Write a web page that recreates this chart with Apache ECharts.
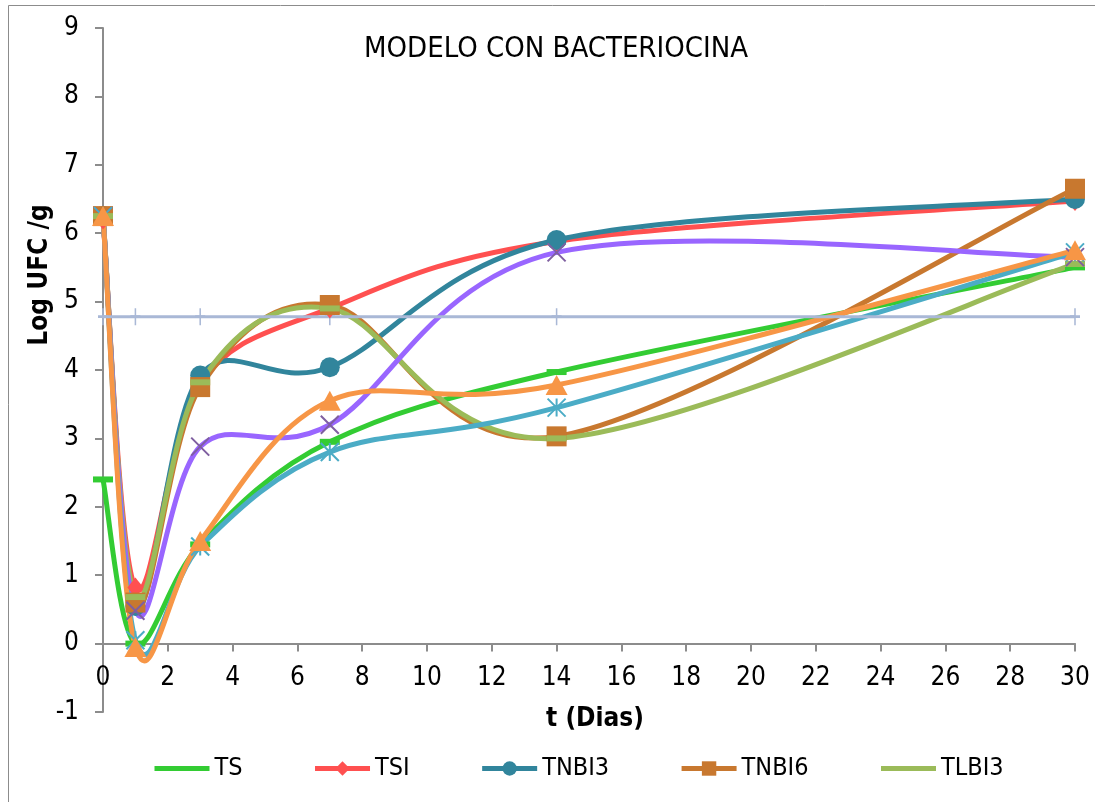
<!DOCTYPE html>
<html>
<head>
<meta charset="utf-8">
<script src="https://cdn.jsdelivr.net/npm/echarts@6/dist/echarts.min.js"></script>
<style>
html,body{margin:0;padding:0;background:#fff;}
#chart{width:1095px;height:802px;}
</style>
</head>
<body>
<div id="chart"></div>
<script>
var days = [0, 1, 3, 7, 14, 30];
var TS = [2.4, 0.0, 1.45, 2.95, 3.97, 5.5];
var TSI = [6.2, 0.82, 3.8, 4.9, 5.88, 6.47];
var TNBI3 = [6.25, 0.55, 3.92, 4.04, 5.9, 6.5];
var TNBI6 = [6.25, 0.6, 3.75, 4.95, 3.03, 6.65];
var TLBI3 = [6.25, 0.68, 3.82, 4.9, 3.0, 5.55];
var SERIE6 = [6.25, 0.48, 2.88, 3.2, 5.72, 5.65];
var SERIE7 = [6.25, 0.05, 1.42, 2.8, 3.45, 5.72];
var SERIE8 = [6.25, -0.05, 1.5, 3.55, 3.78, 5.75];
var LIMITE = [4.78, 4.78, 4.78, 4.78, 4.78, 4.78];

var legendNames = ['TS', 'TSI', 'TNBI3', 'TNBI6', 'TLBI3'];
var titleText = 'MODELO CON BACTERIOCINA';
var xTitle = 't (Dias)';
var yTitle = 'Log UFC /g';

var FONT = '"DejaVu Sans Condensed", "DejaVu Sans", sans-serif';

function pairs(vals) {
  return days.map(function (d, i) { return [d, vals[i]]; });
}

var X_PATH = 'path://M0,0 L10,10 M10,0 L0,10';
var AST_PATH = 'path://M5,0 L5,10 M0,0 L10,10 M10,0 L0,10';
var PLUS_PATH = 'path://M5,0 L5,10 M0,5 L10,5';

// Smooth curve (Excel-like cardinal spline) drawn through the axis scales
function curve(name, vals, color) {
  return {
    name: name + ' curva',
    type: 'custom',
    data: pairs(vals),
    encode: { x: 0, y: 1 },
    silent: true,
    animation: false,
    renderItem: function (params, api) {
      var n = vals.length;
      var i = params.dataIndex;
      if (i >= n - 1) return null;
      function P(k) {
        k = Math.max(0, Math.min(n - 1, k));
        return api.coord([days[k], vals[k]]);
      }
      var p0 = P(i - 1), p1 = P(i), p2 = P(i + 1), p3 = P(i + 2);
      return {
        type: 'bezierCurve',
        shape: {
          x1: p1[0], y1: p1[1], x2: p2[0], y2: p2[1],
          cpx1: p1[0] + (p2[0] - p0[0]) / 6,
          cpy1: p1[1] + (p2[1] - p0[1]) / 6,
          cpx2: p2[0] - (p3[0] - p1[0]) / 6,
          cpy2: p2[1] - (p3[1] - p1[1]) / 6
        },
        style: { stroke: color, lineWidth: 5, fill: 'none', lineCap: 'round' }
      };
    }
  };
}

function markers(name, vals, color, symbol, size, itemStyle) {
  return {
    name: name,
    type: 'line',
    data: pairs(vals),
    symbol: symbol,
    symbolSize: size,
    showSymbol: true,
    lineStyle: { color: color, width: 5, opacity: 0 },
    itemStyle: itemStyle || { color: color },
    emphasis: { disabled: true },
    animation: false
  };
}

var defs = [
  ['TS', TS, '#33cc33', 'rect', [20, 6], null],
  ['TSI', TSI, '#ff5050', 'diamond', [16, 20], null],
  ['TNBI3', TNBI3, '#31859c', 'circle', 20, null],
  ['TNBI6', TNBI6, '#c8782f', 'rect', 20, null],
  ['TLBI3', TLBI3, '#9bbb59', 'rect', [20, 6], null],
  ['Serie6', SERIE6, '#9966ff', X_PATH, 18, { color: 'none', borderColor: '#7f5fa0', borderWidth: 2 }],
  ['Serie7', SERIE7, '#4bacc6', AST_PATH, 18, { color: 'none', borderColor: '#4bacc6', borderWidth: 2 }],
  ['Serie8', SERIE8, '#f79646', 'triangle', [22, 20], null]
];

var series = [{
  name: 'Límite',
  type: 'line',
  data: pairs(LIMITE),
  symbol: PLUS_PATH,
  symbolSize: [10, 17],
  lineStyle: { color: '#a9b8d6', width: 3 },
  itemStyle: { color: 'none', borderColor: '#a9b8d6', borderWidth: 2 },
  emphasis: { disabled: true },
  animation: false
}];
defs.forEach(function (d) {
  series.push(curve(d[0], d[1], d[2]));
  series.push(markers(d[0], d[1], d[2], d[3], d[4], d[5]));
});

var chart = echarts.init(document.getElementById('chart'), null, { renderer: 'canvas' });
chart.setOption({
  backgroundColor: '#ffffff',
  animation: false,
  textStyle: { fontFamily: FONT },
  title: {
    text: titleText,
    left: 551,
    top: 30,
    textAlign: 'center',
    textStyle: { fontFamily: FONT, fontSize: 29, fontWeight: 'normal', color: '#000' }
  },
  legend: {
    data: [
      { name: 'TS', itemStyle: { opacity: 0 } },
      'TSI',
      'TNBI3',
      'TNBI6',
      { name: 'TLBI3', itemStyle: { opacity: 0 } }
    ],
    left: 147,
    top: 751,
    itemWidth: 55,
    itemHeight: 18,
    itemGap: 70,
    lineStyle: { width: 5, opacity: 1 },
    textStyle: { fontFamily: FONT, fontSize: 25, color: '#000' }
  },
  grid: { left: 103, right: 20, top: 28, bottom: 90, containLabel: false },
  xAxis: {
    type: 'value',
    min: 0,
    max: 30,
    interval: 2,
    axisLine: { onZero: true, lineStyle: { color: '#8c8c8c', width: 2 } },
    axisTick: { show: true, inside: false, length: 8, lineStyle: { color: '#8c8c8c', width: 2 } },
    axisLabel: { fontFamily: FONT, fontSize: 26, color: '#000', margin: -47 },
    splitLine: { show: false }
  },
  yAxis: {
    type: 'value',
    min: -1,
    max: 9,
    interval: 1,
    axisLine: { show: true, onZero: false, lineStyle: { color: '#8c8c8c', width: 2 } },
    axisTick: { show: true, inside: false, length: 8, lineStyle: { color: '#8c8c8c', width: 2 } },
    axisLabel: { fontFamily: FONT, fontSize: 26, color: '#000', margin: 24 },
    splitLine: { show: false }
  },
  graphic: [
    {
      type: 'rect',
      shape: { x: 8.5, y: 5.5, width: 1200, height: 1000 },
      style: { fill: 'none', stroke: '#8c8c8c', lineWidth: 1 },
      silent: true,
      z: -10
    },
    {
      type: 'text',
      x: 40,
      y: 275,
      rotation: Math.PI / 2,
      style: {
        text: yTitle,
        align: 'center',
        verticalAlign: 'middle',
        fontFamily: FONT,
        fontSize: 26,
        fontWeight: 'bold',
        fill: '#000'
      }
    },
    {
      type: 'text',
      x: 595,
      y: 719,
      style: {
        text: xTitle,
        align: 'center',
        verticalAlign: 'middle',
        fontFamily: FONT,
        fontSize: 26,
        fontWeight: 'bold',
        fill: '#000'
      }
    }
  ],
  series: series
});
</script>
</body>
</html>
